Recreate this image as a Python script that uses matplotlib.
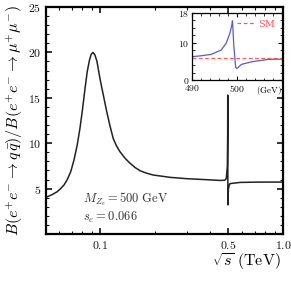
import matplotlib
matplotlib.use("Agg")
import matplotlib.pyplot as plt
from matplotlib.ticker import FixedLocator, FixedFormatter, NullFormatter, LogLocator

plt.rcParams['mathtext.fontset'] = 'cm'
plt.rcParams['font.family'] = 'serif'
plt.rcParams['font.serif'] = ['DejaVu Serif']

# Main curve: sqrt(s) in TeV, ratio
sqrt_s = [0.0507, 0.0515, 0.0547, 0.0584, 0.0608, 0.0636, 0.0663, 0.0692, 0.0721,
          0.0751, 0.0778, 0.0800, 0.0828, 0.0852, 0.0876, 0.0896, 0.0916, 0.0939,
          0.0963, 0.1000, 0.1038, 0.1088, 0.1134, 0.1182, 0.1231, 0.1286, 0.1370,
          0.1458, 0.1553, 0.1654, 0.1784, 0.1948, 0.2413, 0.2988, 0.3842, 0.4526,
          0.4800, 0.4900, 0.4965, 0.4985, 0.4990, 0.4998, 0.5005, 0.5030, 0.5080,
          0.5130, 0.5824, 0.7000, 0.8500, 1.0000]
ratio = [4.05, 4.10, 4.33, 4.66, 4.98, 5.40, 6.00, 6.86, 8.15,
         9.80, 11.7, 13.5, 16.0, 17.9, 19.15, 19.8, 20.0, 19.7,
         19.0, 17.1, 15.5, 13.5, 11.9, 10.5, 9.7, 9.06, 8.35,
         7.80, 7.33, 6.97, 6.72, 6.50, 6.24, 6.09, 5.98, 5.90,
         5.92, 6.10, 7.5, 11.0, 15.3, 3.2, 4.0, 4.9, 5.35,
         5.55, 5.68, 5.71, 5.72, 5.72]

# Inset: sqrt(s) in GeV
inset_e = [490.0, 492.0, 494.3, 496.5, 497.6, 498.4, 498.8, 499.0, 499.3, 499.7,
           500.0, 501.0, 503.3, 507.0, 510.0]
inset_r = [6.26, 6.5, 6.9, 8.06, 9.9, 12.5, 14.5, 15.9, 9.0, 3.4,
           3.1, 4.2, 4.9, 5.55, 5.6]
sm_value = 5.9

main_xticks = [0.1, 0.5, 1.0]
main_xticklabels = [r'$0.1$', r'$0.5$', r'$1.0$']
main_yticks = [5, 10, 15, 20, 25]
inset_xticks = [490, 500]
inset_yticks = [0, 10, 18]

fig = plt.figure(figsize=(2.91, 2.82), dpi=100)
ax = fig.add_axes([46/291, 1-234/282, 237/291, 227/282])
ax.plot(sqrt_s, ratio, color='#222222', lw=1.1)
ax.set_xscale('log')
ax.set_xlim(0.0507, 1.0)
ax.set_ylim(0, 25)
ax.xaxis.set_major_locator(FixedLocator(main_xticks))
ax.xaxis.set_major_formatter(FixedFormatter(main_xticklabels))
ax.xaxis.set_minor_locator(LogLocator(base=10, subs=range(2, 10), numticks=20))
ax.xaxis.set_minor_formatter(NullFormatter())
ax.yaxis.set_major_locator(FixedLocator(main_yticks))
ax.yaxis.set_major_formatter(FixedFormatter([r'$%d$' % v for v in main_yticks]))
ax.yaxis.set_minor_locator(FixedLocator(range(0, 26)))
ax.tick_params(which='both', direction='in', top=True, right=True, labelsize=8.5, colors='#111111')
ax.tick_params(which='major', length=4, width=1.2)
ax.tick_params(which='minor', length=2.5, width=0.8)
for sp in ax.spines.values():
    sp.set_linewidth(1.6)
ax.set_ylabel(r'$B(e^{+}e^{-}\rightarrow q\,\bar{q})/B(e^{+}e^{-}\rightarrow \mu^{+}\mu^{-})$',
              fontsize=11.5, labelpad=2)
ax.text(0.844, -0.123, r'$\sqrt{s}\ (\mathrm{TeV})$', transform=ax.transAxes,
        ha='center', va='center', fontsize=11.5)
ax.text(0.155, 0.155, r'$M_{Z_e} = 500\ \mathrm{GeV}$', transform=ax.transAxes,
        ha='left', va='center', fontsize=9, color='#333333')
ax.text(0.155, 0.075, r'$s_e = 0.066$', transform=ax.transAxes,
        ha='left', va='center', fontsize=9, color='#333333')

axi = fig.add_axes([192/291, 1-80/282, 90/291, 67/282])
axi.set_facecolor('white')
axi.plot(inset_e, inset_r, color='#5a5ac8', lw=0.9)
axi.axhline(sm_value, color='#ff5a5a', lw=0.9, ls=(0, (3, 2)), label='SM')
axi.set_xlim(490, 510)
axi.set_ylim(0, 18)
axi.xaxis.set_major_locator(FixedLocator(inset_xticks))
axi.xaxis.set_major_formatter(FixedFormatter([r'$%d$' % v for v in inset_xticks]))
axi.xaxis.set_minor_locator(FixedLocator(range(490, 511, 2)))
axi.yaxis.set_major_locator(FixedLocator(inset_yticks))
axi.yaxis.set_major_formatter(FixedFormatter([r'$%d$' % v for v in inset_yticks]))
axi.yaxis.set_minor_locator(FixedLocator(range(0, 19, 2)))
axi.tick_params(which='both', direction='in', top=True, right=True, labelsize=7, pad=2, colors='#111111')
axi.tick_params(which='major', length=3, width=0.8)
axi.tick_params(which='minor', length=1.8, width=0.6)
for sp in axi.spines.values():
    sp.set_linewidth(0.9)
axi.text(507.0, -1.0, r'$(\mathrm{GeV})$', ha='center', va='top', fontsize=6.5)
leg = axi.legend(loc='upper right', frameon=False, fontsize=7, handlelength=1.8,
                 handletextpad=0.4, borderaxespad=0.3, labelcolor='#ff5a5a')
for t in leg.get_texts():
    t.set_fontfamily('serif')

fig.savefig('out.png', dpi=100)
